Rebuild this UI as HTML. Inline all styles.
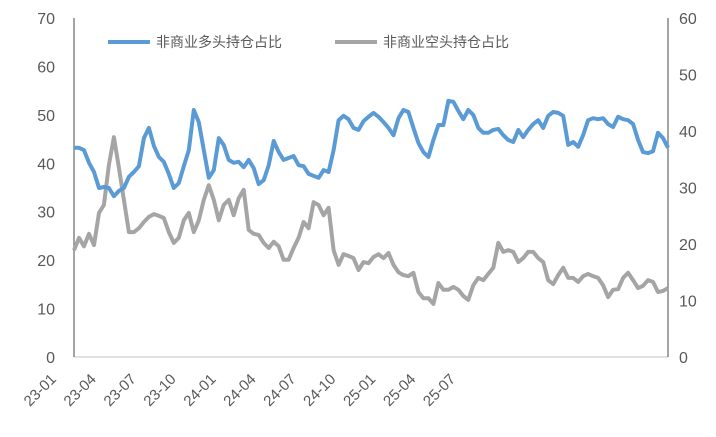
<!DOCTYPE html>
<html><head><meta charset="utf-8"><style>
html,body{margin:0;padding:0;background:#fff;}
svg{display:block;font-family:"Liberation Sans","Noto Sans CJK SC",sans-serif;}
</style></head><body>
<svg id="chart" width="716" height="437" viewBox="0 0 716 437">
<g id="axes"></g><g id="series"></g>
<g>
 <line x1="108" y1="42" x2="150" y2="42" stroke="#5b9bd5" stroke-width="4"/>
 <text x="156" y="47" font-size="14" fill="#595959">非商业多头持仓占比</text>
 <line x1="335" y1="42" x2="377" y2="42" stroke="#a5a5a5" stroke-width="4"/>
 <text x="383" y="47" font-size="14" fill="#595959">非商业空头持仓占比</text>
</g>
</svg>
<script>
const longShare=[43.2,43.2,42.7,40.1,38.2,34.9,35.1,34.9,33.2,34.3,34.9,37.2,38.2,39.4,45.2,47.3,43.6,41.3,40.3,37.8,34.9,35.9,39.4,42.7,51.0,48.5,42.7,37.0,38.6,45.2,43.8,40.7,40.1,40.3,39.2,40.7,39.0,35.7,36.5,39.6,44.6,42.3,40.7,41.1,41.5,39.6,39.4,37.8,37.4,37.0,38.6,38.2,42.7,48.9,49.8,49.1,47.3,46.9,48.7,49.6,50.4,49.6,48.5,47.3,45.8,49.3,51.0,50.6,47.3,44.2,42.3,41.3,44.8,47.9,47.9,52.9,52.7,50.8,49.1,51.0,50.0,47.3,46.3,46.3,46.9,47.1,45.8,44.8,44.4,46.9,45.4,46.9,48.1,48.9,47.3,49.8,50.6,50.4,49.8,43.8,44.4,43.4,45.8,48.9,49.3,49.1,49.3,48.1,47.5,49.6,49.1,48.9,48.1,44.8,42.3,42.1,42.5,46.3,45.2,43.2];
const shortShare=[18.9,21.1,19.6,21.8,19.8,25.5,26.9,34.0,38.9,33.5,27.8,22.1,22.1,22.8,23.9,24.8,25.3,25.0,24.6,22.1,20.2,21.1,24.2,25.5,22.1,24.2,27.8,30.4,27.8,24.2,26.9,27.8,25.1,28.1,29.6,22.5,21.8,21.6,20.2,19.3,20.4,19.6,17.2,17.2,19.3,21.1,23.9,22.8,27.4,26.9,25.1,26.4,18.9,16.3,18.2,17.9,17.5,15.4,16.8,16.6,17.7,18.2,17.5,18.4,16.3,15.0,14.5,14.3,14.9,11.5,10.4,10.4,9.4,13.1,11.9,11.9,12.4,11.9,10.8,10.1,12.7,14.0,13.6,14.7,15.8,20.2,18.6,18.9,18.6,16.8,17.5,18.6,18.6,17.5,16.8,13.6,12.9,14.5,15.8,14.0,14.0,13.3,14.3,14.7,14.3,14.0,12.7,10.6,11.9,12.0,14.0,14.9,13.6,12.2,12.6,13.6,13.3,11.5,11.7,12.2];
const xLabels=["23-01","23-04","23-07","23-10","24-01","24-04","24-07","24-10","25-01","25-04","25-07"];
const labelEvery=8;
const leftTicks=[0,10,20,30,40,50,60,70];
const rightTicks=[0,10,20,30,40,50,60];

const NS="http://www.w3.org/2000/svg";
const X0=74,X1=668,Y0=357,Y1=18;
const n=longShare.length;
const xs=i=>X0+(X1-X0)*i/(n-1);
const yL=v=>Y0-(Y0-Y1)*v/70;
const yR=v=>Y0-(Y0-Y1)*v/60;
function mk(tag,attrs,parent){const e=document.createElementNS(NS,tag);for(const k in attrs)e.setAttribute(k,attrs[k]);parent.appendChild(e);return e;}
const axes=document.getElementById('axes'),series=document.getElementById('series');

let e=mk('line',{x1:X0,y1:Y0,x2:X1,y2:Y0,stroke:'#d9d9d9','stroke-width':1.5},axes);


e=mk('line',{x1:X0,y1:Y1,x2:X0,y2:Y0,stroke:'#868686','stroke-width':1.5},axes);


e=mk('line',{x1:X1,y1:Y1,x2:X1,y2:Y0,stroke:'#868686','stroke-width':1.5},axes);



leftTicks.forEach(v=>{const t=mk('text',{x:55,y:yL(v)+6,'text-anchor':'end','font-size':16,fill:'#595959'},axes);t.textContent=v;

});
rightTicks.forEach(v=>{const t=mk('text',{x:679,y:yR(v)+6,'text-anchor':'start','font-size':16,fill:'#595959'},axes);t.textContent=v;

});
xLabels.forEach((s,k)=>{const x=xs(k*labelEvery)-17,y=380;const t=mk('text',{x:x,y:y,'text-anchor':'end','font-size':15,fill:'#595959',transform:`rotate(-45 ${x} ${y})`},axes);t.textContent=s;

});

const pL=shortShare.map((v,i)=>(i?'L':'M')+xs(i).toFixed(1)+' '+yR(v).toFixed(1)).join('');
e=mk('path',{d:pL,fill:'none',stroke:'#a5a5a5','stroke-width':4,'stroke-linejoin':'round'},series);


const pB=longShare.map((v,i)=>(i?'L':'M')+xs(i).toFixed(1)+' '+yL(v).toFixed(1)).join('');
e=mk('path',{d:pB,fill:'none',stroke:'#5b9bd5','stroke-width':4,'stroke-linejoin':'round'},series);


</script>
</body></html>
